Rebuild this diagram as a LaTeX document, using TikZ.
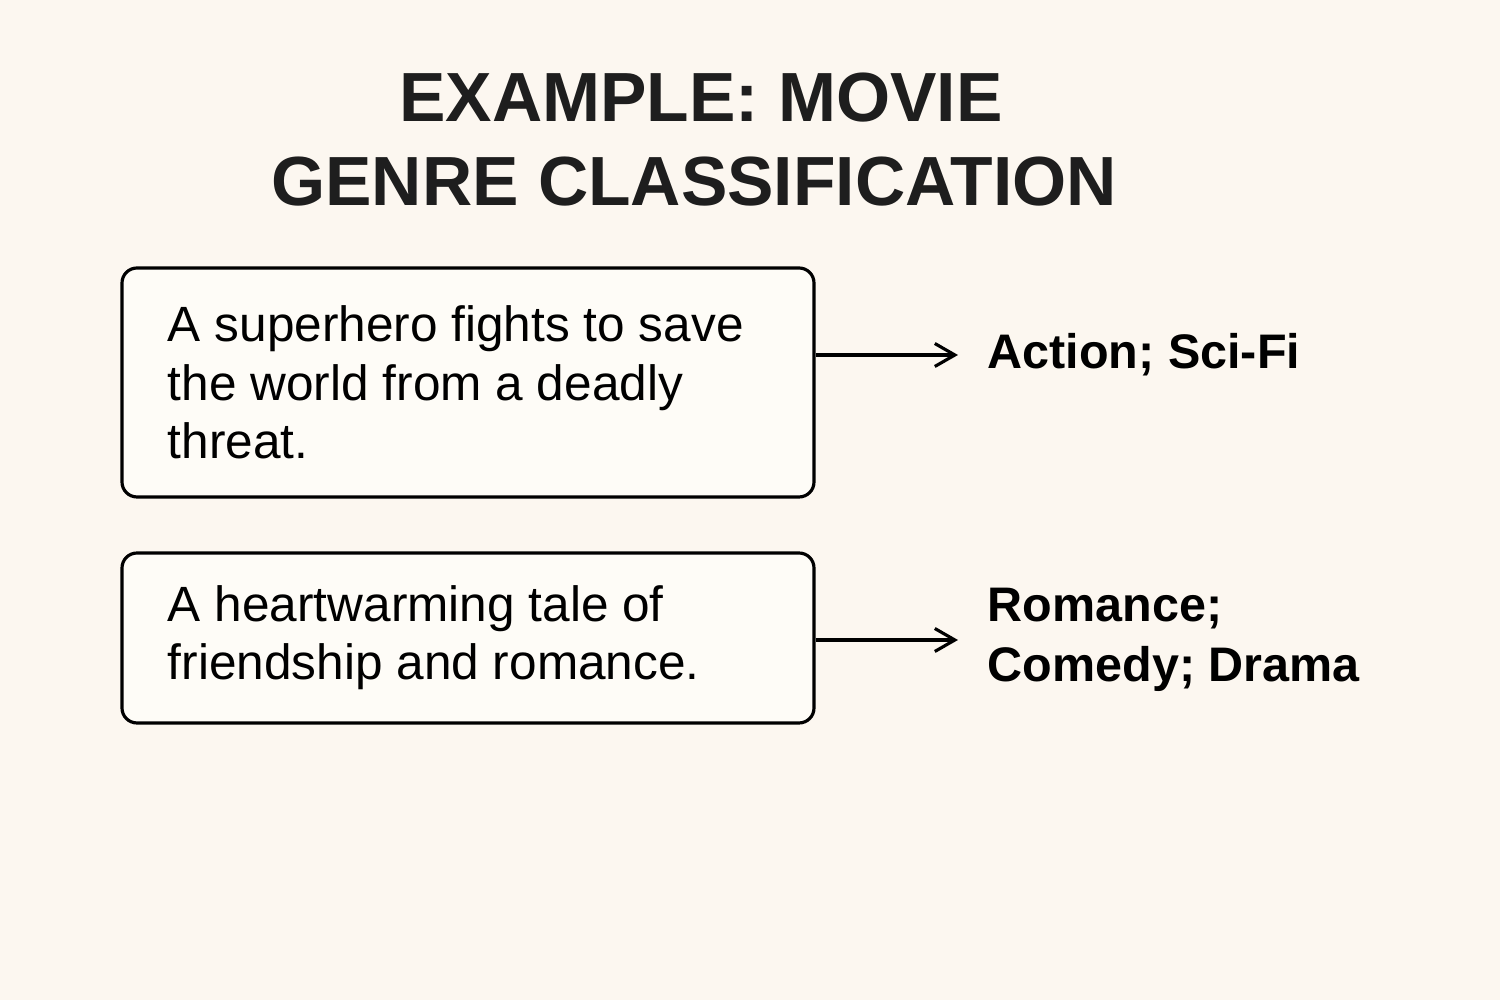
\documentclass[tikz,border=0pt]{standalone}
\usepackage{fontspec}
\setmainfont{Liberation Sans}
\usepackage{tikz}
\usetikzlibrary{arrows.meta,positioning,calc}
\definecolor{bgcol}{HTML}{FCF7F0}
\definecolor{boxcol}{HTML}{FEFCF7}
\definecolor{inkcol}{HTML}{1E1E1E}

\begin{document}
\begin{tikzpicture}
  \fill [bgcol] (0,0) rectangle (15,-10);
  \useasboundingbox (0,0) rectangle (15,-10);

  \node (title1) [anchor=base, text=inkcol, font=\fontsize{19.8}{24}\selectfont\bfseries] at (7.01,-1.22) {EXAMPLE: MOVIE};
  \node (title2) [anchor=base, text=inkcol, font=\fontsize{19.8}{24}\selectfont\bfseries] at (6.94,-2.06) {GENRE CLASSIFICATION};

  \node (plot1) [draw=black, fill=boxcol, line width=0.9pt, rounded corners=1.5mm, minimum width=6.92cm, minimum height=2.29cm, text width=6.0cm, inner xsep=0.46cm, align=flush left, font=\fontsize{14.1}{16.6}\selectfont] at (4.68,-3.825) {A superhero fights to save the world from a deadly threat.};
  \node (plot2) [draw=black, fill=boxcol, line width=0.9pt, rounded corners=1.5mm, minimum width=6.92cm, minimum height=1.70cm, text width=6.0cm, inner xsep=0.46cm, align=flush left, font=\fontsize{14.1}{16.6}\selectfont] at (4.68,-6.38) {A heartwarming tale of friendship and romance.};

  \node (genre1) [anchor=west, inner sep=0pt, align=left, font=\fontsize{13.8}{17}\selectfont\bfseries] at (9.87,-3.55) {Action; Sci-Fi};
  \node (genre2) [anchor=west, inner sep=0pt, align=left, font=\fontsize{13.8}{17}\selectfont\bfseries] at (9.87,-6.40) {Romance;\\Comedy; Drama};

  \path [-{Straight Barb[length=2mm,width=2.3mm]}] [line width=0.9pt, shorten >=2.9mm]
  (plot1.east |- genre1.west) edge node {} (genre1.west)
  (plot2.east |- genre2.west) edge node {} (genre2.west);
\end{tikzpicture}
\end{document}
